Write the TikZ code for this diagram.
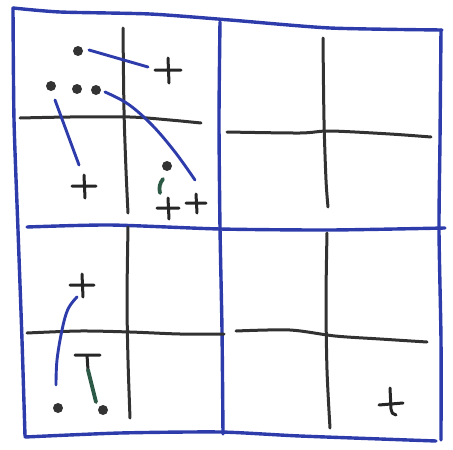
\documentclass[tikz,border=0pt]{standalone}
\usepackage{tikz}
\definecolor{penblue}{RGB}{45,60,170}
\definecolor{pengray}{RGB}{50,50,50}
\definecolor{pengreen}{RGB}{45,90,70}

\begin{document}
\begin{tikzpicture}[x=1pt, y=-1pt,
      line cap=round, line join=round,
      frame/.style={draw=penblue, line width=3.4pt},
      axis/.style={draw=pengray, line width=3pt},
      traj/.style={draw=penblue, line width=2.9pt},
      smear/.style={draw=pengreen, line width=3.8pt},
      crossmark/.style={draw=black!85, line width=3pt},
      dot/.style={fill=black!80}
    ]
  \useasboundingbox (0,0) rectangle (453,450);

  %% outer frame and grid
  \draw[frame] plot[smooth, tension=0.4] coordinates
      {(13,8) (60,12) (150,14) (230,20) (330,28) (442,30)};
  \draw[frame] plot[smooth, tension=0.4] coordinates
      {(13,8) (14,120) (18,230) (22,340) (25,436)};
  \draw[frame] plot[smooth, tension=0.4] coordinates
      {(441,30) (440,140) (439,230) (441,340) (441,440)};
  \draw[frame] plot[smooth, tension=0.4] coordinates
      {(25,437) (120,433) (220,432) (300,436) (436,441)};
  \draw[frame] plot[smooth, tension=0.4] coordinates
      {(27,227) (110,225) (220,229) (330,230) (445,228)};
  \draw[frame] plot[smooth, tension=0.4] coordinates
      {(220,22) (219,120) (220,228) (222,330) (223,434)};

  %% axes, top left
  \draw[axis] plot[smooth, tension=0.5] coordinates {(123,28) (124,110) (126,170) (128,213)};
  \draw[axis] plot[smooth, tension=0.5] coordinates {(20,118) (70,117) (130,117) (170,120) (201,123)};
  %% axes, top right
  \draw[axis] plot[smooth, tension=0.5] coordinates {(323,38) (324,120) (326,180) (328,207)};
  \draw[axis] plot[smooth, tension=0.5] coordinates {(227,132) (300,133) (330,131) (390,134) (431,137)};
  %% axes, bottom left
  \draw[axis] plot[smooth, tension=0.5] coordinates {(128,227) (127,300) (128,360) (130,418)};
  \draw[axis] plot[smooth, tension=0.5] coordinates {(27,333) (80,331) (130,332) (180,334) (224,334)};
  %% axes, bottom right
  \draw[axis] plot[smooth, tension=0.5] coordinates {(327,233) (326,300) (327,370) (330,428)};
  \draw[axis] plot[smooth, tension=0.5] coordinates {(236,331) (290,330) (335,336) (380,339) (427,342)};

  %% dots
  \foreach \px/\py in {78/51, 51/86, 77/89, 96/90, 167/166, 58/408, 103/410}
    \fill[dot] (\px,\py) circle (5pt);

  %% plus marks
  \foreach \cx/\cy/\r in {168/70/13, 84/186/12, 168/208/11, 196/203/10, 82/285/12}
    \draw[crossmark] (\cx-\r,\cy) -- (\cx+\r,\cy) (\cx,\cy-\r+1) -- (\cx+1,\cy+\r);
  \draw[crossmark] (379,405) -- (403,403)
      (390,388) -- (391,409) to[out=-90, in=180] (396,415);

  %% trajectories
  \draw[traj] (89,50) -- (148,67);
  \draw[traj] (55,100) -- (79,165);
  \draw[traj] plot[smooth, tension=0.6] coordinates
      {(105,92) (128,104) (152,125) (175,152) (195,180)};
  \draw[traj] plot[smooth, tension=0.6] coordinates
      {(77,297) (68,309) (62,330) (57,360) (56,385)};

  %% green strokes
  \draw[smear] (163,179) to[bend right=25] (160,193);
  \draw[crossmark] (75,355) -- (100,355) (87,355) -- (88,370);
  \draw[smear] (88,370) -- (96,402);
\end{tikzpicture}
\end{document}
